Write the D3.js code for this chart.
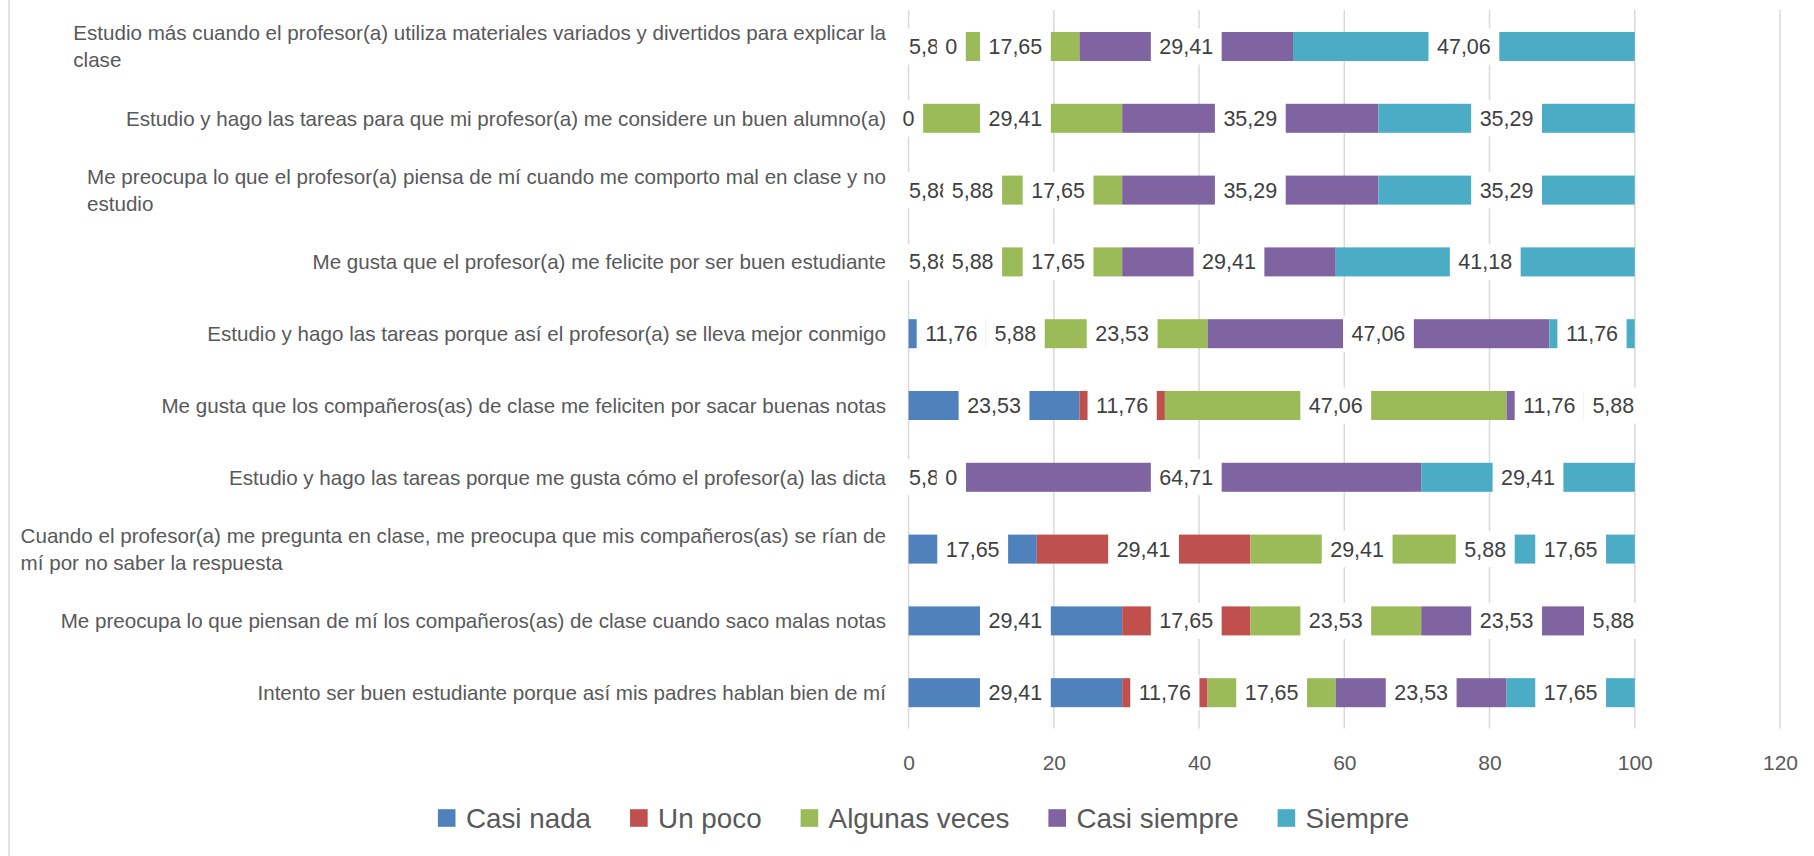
<!DOCTYPE html>
<html>
<head>
<meta charset="utf-8">
<script src="https://cdn.jsdelivr.net/npm/d3@7"></script>
<style>
  html, body { margin: 0; padding: 0; background: #ffffff; }
  svg { display: block; font-family: "Liberation Sans", Arial, sans-serif; }
</style>
</head>
<body>
<svg id="chart" width="1814" height="856"></svg>
<script>
// ---- DATA ----
const categories = [
  "Estudio más cuando el profesor(a) utiliza materiales variados y divertidos para explicar la\nclase",
  "Estudio y hago las tareas para que mi profesor(a) me considere un buen alumno(a)",
  "Me preocupa lo que el profesor(a) piensa de mí cuando me comporto mal en clase y no\nestudio",
  "Me gusta que el profesor(a) me felicite por ser buen estudiante",
  "Estudio y hago las tareas porque así el profesor(a) se lleva mejor conmigo",
  "Me gusta que los compañeros(as) de clase me feliciten por sacar buenas notas",
  "Estudio y hago las tareas porque me gusta cómo el profesor(a) las dicta",
  "Cuando el profesor(a) me pregunta en clase, me preocupa que mis compañeros(as) se rían de\nmí por no saber la respuesta",
  "Me preocupa lo que piensan de mí los compañeros(as) de clase cuando saco malas notas",
  "Intento ser buen estudiante porque así mis padres hablan bien de mí"
];
const seriesNames = ["Casi nada", "Un poco", "Algunas veces", "Casi siempre", "Siempre"];
const casiNada     = [5.88, 0,     5.88,  5.88,  11.76, 23.53, 5.88,  17.65, 29.41, 29.41];
const unPoco       = [0,    0,     5.88,  5.88,  5.88,  11.76, 0,     29.41, 17.65, 11.76];
const algunasVeces = [17.65, 29.41, 17.65, 17.65, 23.53, 47.06, 0,    29.41, 23.53, 17.65];
const casiSiempre  = [29.41, 35.29, 35.29, 29.41, 47.06, 11.76, 64.71, 5.88, 23.53, 23.53];
const siempre      = [47.06, 35.29, 35.29, 41.18, 11.76, 5.88,  29.41, 17.65, 5.88, 17.65];
const xTicks = [0, 20, 40, 60, 80, 100, 120];
const seriesColors = ["#4f81bd", "#c0504d", "#9bbb59", "#8064a2", "#4bacc6"];

// ---- BUILD TABLE ----
const seriesValues = [casiNada, unPoco, algunasVeces, casiSiempre, siempre];
const rows = categories.map((c, i) => {
  const o = { category: c };
  seriesNames.forEach((s, j) => { o[s] = seriesValues[j][i]; });
  return o;
});

const svg = d3.select("#chart");
const x = d3.scaleLinear().domain([0, 120]).range([908.6, 1780]);
const y = d3.scaleBand().domain(categories).range([10.6, 728.6])
  .paddingInner(0.596).paddingOuter(0.298);
const color = d3.scaleOrdinal().domain(seriesNames).range(seriesColors);

// chart border (left edge visible)
svg.append("line").attr("x1", 9).attr("x2", 9).attr("y1", 0).attr("y2", 856)
  .attr("stroke", "#d9d9d9").attr("stroke-width", 1.5);

// gridlines
svg.append("g").selectAll("line").data(xTicks).join("line")
  .attr("x1", d => x(d)).attr("x2", d => x(d))
  .attr("y1", 10).attr("y2", 728.6)
  .attr("stroke", "#d9d9d9").attr("stroke-width", 1.5);

// x axis tick labels
const xAxis = d3.axisBottom(x).tickValues(xTicks).tickSize(0).tickPadding(0);
const gx = svg.append("g").attr("transform", "translate(0,750)").call(xAxis);
gx.select(".domain").remove();
gx.selectAll("text").attr("font-size", 21).attr("fill", "#595959")
  .attr("font-family", "Liberation Sans, Arial, sans-serif").attr("dy", "0.95em");

// stacked bars
const stack = d3.stack().keys(seriesNames);
const stacked = stack(rows);
const layers = svg.append("g").selectAll("g").data(stacked).join("g")
  .attr("fill", d => color(d.key));
layers.selectAll("rect").data(d => d).join("rect")
  .attr("x", d => x(d[0]))
  .attr("width", d => Math.max(0, x(d[1]) - x(d[0])))
  .attr("y", d => y(d.data.category))
  .attr("height", y.bandwidth());

// data labels with white background
const fmt = v => String(v).replace(".", ",");
const labelsG = svg.append("g");
stacked.forEach(layer => {
  layer.forEach(d => {
    const cx = x((d[0] + d[1]) / 2);
    const cy = y(d.data.category) + y.bandwidth() / 2;
    const g = labelsG.append("g");
    const r = g.append("rect").attr("fill", "#ffffff");
    const t = g.append("text").attr("x", cx).attr("y", cy).attr("dy", "0.35em")
      .attr("text-anchor", "middle").attr("font-size", 21.5).attr("fill", "#404040")
      .text(fmt(d.data[layer.key]));
    const w = t.node().getComputedTextLength();
    r.attr("x", cx - w / 2 - 8.5).attr("width", w + 17)
      .attr("y", cy - 18).attr("height", 36);
  });
});

// category labels
const catG = svg.append("g");
categories.forEach(c => {
  const lines = c.split("\n");
  const cy = y(c) + y.bandwidth() / 2;
  const t = catG.append("text").attr("font-size", 20.6).attr("fill", "#595959");
  const lineH = 27;
  const spans = lines.map((ln, i) => t.append("tspan")
    .attr("y", cy + (i - (lines.length - 1) / 2) * lineH).attr("dy", "0.35em").text(ln));
  const widths = spans.map(s => s.node().getComputedTextLength());
  const maxW = d3.max(widths);
  const right = 886;
  if (lines.length === 1) {
    t.attr("text-anchor", "end");
    spans.forEach(s => s.attr("x", right));
  } else {
    spans.forEach(s => s.attr("x", right - maxW));
  }
});

// legend
const legend = svg.append("g");
let lx = 0;
seriesNames.forEach(s => {
  const g = legend.append("g").attr("transform", `translate(${lx},0)`);
  g.append("rect").attr("x", 0).attr("y", -8.8).attr("width", 17.6).attr("height", 17.6)
    .attr("fill", color(s));
  const t = g.append("text").attr("x", 28).attr("y", 0).attr("dy", "0.35em")
    .attr("font-size", 27.8).attr("fill", "#595959").text(s);
  const w = t.node().getComputedTextLength();
  lx += 28 + w + 39;
});
const totalW = lx - 39;
legend.attr("transform", `translate(${923.5 - totalW / 2},818)`);
</script>
</body>
</html>
